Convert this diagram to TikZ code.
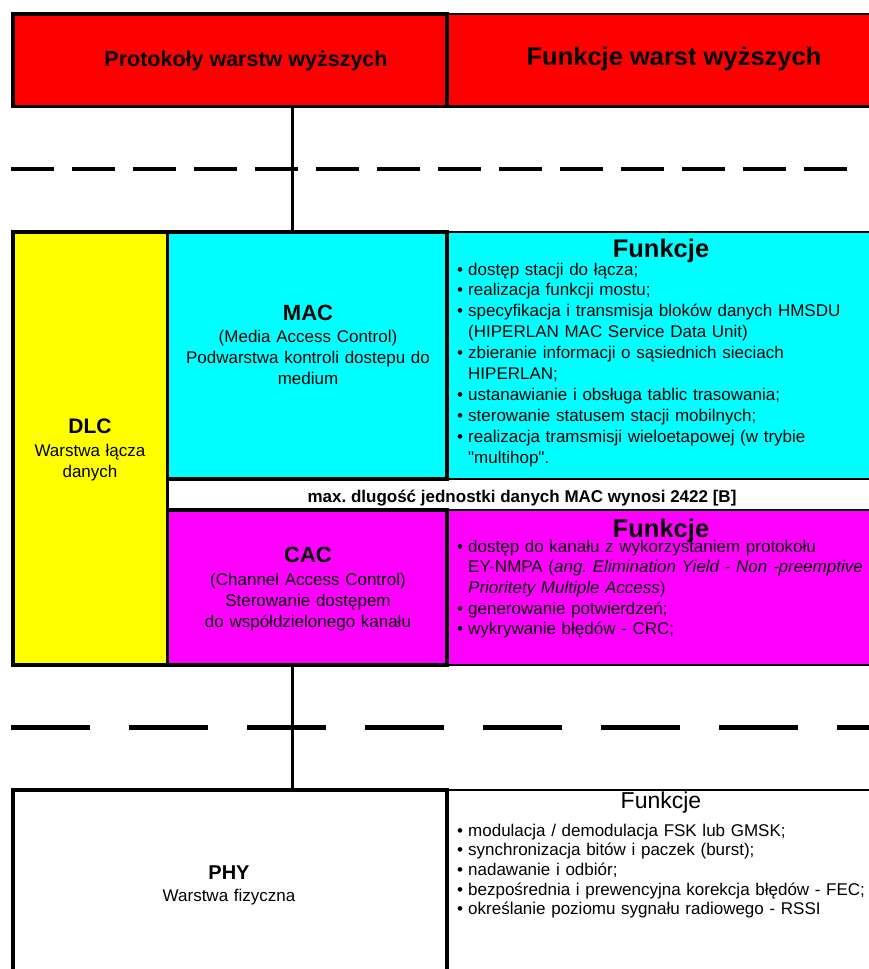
\documentclass[tikz,border=0pt]{standalone}
\usepackage{fontspec}
\setmainfont{Liberation Sans}[Ligatures=TeXOff]
% bullet entry with a hanging indent for wrapped lines
\newcommand\fitem[1]{\hangindent=11pt\hangafter=1\noindent\makebox[11pt][l]{•}#1}
\definecolor{hdrred}{RGB}{255,0,0}
\definecolor{maccyan}{RGB}{0,255,255}
\definecolor{cacmag}{RGB}{255,0,255}
\definecolor{dlcyel}{RGB}{255,255,0}
\begin{document}
\frenchspacing
\begin{tikzpicture}[x=1pt,y=-1pt,
  box/.style={draw=black,rectangle,anchor=north west,inner sep=0pt,outer sep=0pt},
  layerbox/.style={box,line width=3.5pt},
  panelbox/.style={box,line width=2.5pt},
  conn/.style={draw=black,line width=3pt},
  sep/.style={draw=black,line width=4.5pt},
  title/.style={anchor=base,inner sep=0pt,font=\bfseries\fontsize{#1}{#1}\selectfont},
  label/.style={anchor=base,inner sep=0pt,align=center,text width=300pt,
    font=\fontsize{17}{21}\selectfont},
  fnlist/.style={anchor=base west,inner sep=0pt,align=left,text width=430pt,
    font=\fontsize{17}{#1}\selectfont}
]
\useasboundingbox (0,0) rectangle (869,969);
\fill[white] (0,0) rectangle (869,969);
\clip (0,0) rectangle (869,969);

% right-hand panels (thin frames)
\node[panelbox,fill=hdrred,minimum width=440pt,minimum height=92.5pt] (hdrfn) at (447,14) {};
\node[panelbox,fill=maccyan,minimum width=440pt,minimum height=247pt] (macfn) at (447,232) {};
\node[panelbox,fill=white,minimum width=720pt,minimum height=31pt] (strip) at (167.5,479) {};
\node[panelbox,fill=cacmag,minimum width=440pt,minimum height=155pt] (cacfn) at (447,510) {};
\node[panelbox,minimum width=440pt,minimum height=220pt] (phyfn) at (447,790) {};

% protocol layers (thick frames)
\node[layerbox,fill=hdrred,minimum width=434pt,minimum height=92.5pt] (proto) at (13,14) {};
\node[layerbox,fill=dlcyel,minimum width=154.5pt,minimum height=433pt] (dlc) at (13,232) {};
\node[layerbox,fill=maccyan,minimum width=279.5pt,minimum height=247pt] (mac) at (167.5,232) {};
\node[layerbox,fill=cacmag,minimum width=279.5pt,minimum height=155pt] (cac) at (167.5,510) {};
\node[layerbox,fill=white,minimum width=434pt,minimum height=220pt] (phy) at (13,790) {};

% boundaries between layer groups
\draw[sep,dash pattern=on 43pt off 18pt] (11,169) -- (852,169);
\draw[sep,line width=5pt,dash pattern=on 79pt off 39pt] (11,727.5) -- (869,727.5);

% vertical link through the stack
\coordinate (spine) at (292,0);
\draw[conn] (spine |- proto.south) -- (spine |- mac.north);
\draw[conn] (spine |- cac.south) -- (spine |- phy.north);

% header texts
\node[title=21.5] (protot) at (246,66) {Protokoły warstw wyższych};
\node[title=25.5] (hdrfnt) at (674,65) {Funkcje warst wyższych};

% layer labels
\node[label] (dlct) at (90,433) {{\bfseries\fontsize{21}{21}\selectfont DLC}\\[2pt]Warstwa łącza\\danych};
\node[label] (mact) at (308,320) {{\bfseries\fontsize{22}{22}\selectfont MAC}\\[1pt](Media Access Control)\\Podwarstwa kontroli dostepu do\\medium};
\node[label] (cact) at (308,562) {{\bfseries\fontsize{22}{22}\selectfont CAC}\\[2pt](Channel Access Control)\\Sterowanie dostępem\\do współdzielonego kanału};
\node[label] (phyt) at (229,879) {{\bfseries\fontsize{20}{20}\selectfont PHY}\\[1pt]Warstwa fizyczna};

\node[title=17] (stript) at (522,502) {max. dlugość jednostki danych MAC wynosi 2422 [B]};

% function lists
\node[title=25.5] (macfnh) at (661,257) {Funkcje};
\node[fnlist=20.9] (macfnl) at (457,275) {%
\fitem{dostęp stacji do łącza;}\par
\fitem{realizacja funkcji mostu;}\par
\fitem{specyfikacja i transmisja bloków danych HMSDU\newline(HIPERLAN MAC Service Data Unit)}\par
\fitem{zbieranie informacji o sąsiednich sieciach\newline HIPERLAN;}\par
\fitem{ustanawianie i obsługa tablic trasowania;}\par
\fitem{sterowanie statusem stacji mobilnych;}\par
\fitem{realizacja tramsmisji wieloetapowej (w trybie\newline"multihop".}\par};

\node[title=25.5] (cacfnh) at (661,537) {Funkcje};
\node[fnlist=20.7] (cacfnl) at (457,552) {%
\fitem{dostęp do kanału z wykorzystaniem protokołu\newline EY-NMPA (\textit{ang. Elimination Yield - Non -preemptive}\newline\textit{Prioritety Multiple Access})}\par
\fitem{generowanie potwierdzeń;}\par
\fitem{wykrywanie błędów - CRC;}\par};

\node[anchor=base,inner sep=0pt,font=\fontsize{23}{23}\selectfont] (phyfnh) at (661,808) {Funkcje};
\node[fnlist=19.7] (phyfnl) at (457,836) {%
\fitem{modulacja / demodulacja FSK lub GMSK;}\par
\fitem{synchronizacja bitów i paczek (burst);}\par
\fitem{nadawanie i odbiór;}\par
\fitem{bezpośrednia i prewencyjna korekcja błędów - FEC;}\par
\fitem{określanie poziomu sygnału radiowego - RSSI}\par};
\end{tikzpicture}
\end{document}
